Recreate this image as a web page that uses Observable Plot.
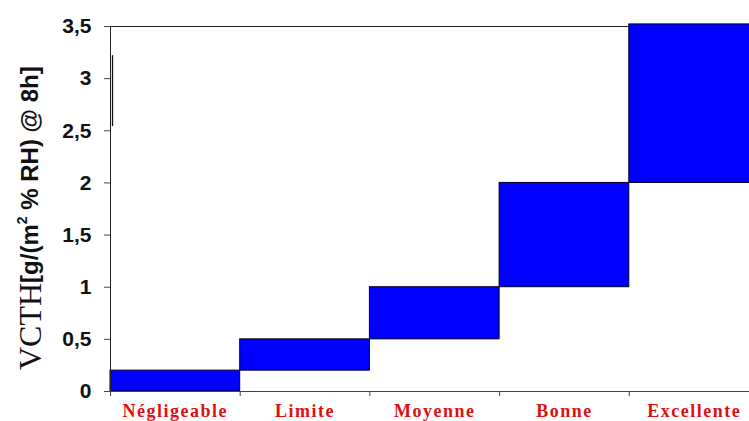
<!DOCTYPE html>
<html>
<head>
<meta charset="utf-8">
<script src="https://cdn.jsdelivr.net/npm/d3@7"></script>
<script src="https://cdn.jsdelivr.net/npm/@observablehq/plot@0.6"></script>
<style>
  html, body { margin: 0; padding: 0; background: white; overflow: hidden; }
  #chart svg { display: block; }
  #chart g[aria-label="x-axis tick label"] text { letter-spacing: 1.5px; }
</style>
</head>
<body>
<div id="chart"></div>
<script>
// Data
const categories = ["Négligeable", "Limite", "Moyenne", "Bonne", "Excellente"];
const lows  = [0, 0.2, 0.5, 1, 2];
const highs = [0.2, 0.5, 1, 2, 3.52];
const yTicks = [0, 0.5, 1, 1.5, 2, 2.5, 3, 3.5];
const yMax = 3.5;
const artifactRange = [2.54, 3.22]; // stray vertical stroke beside the y axis

const table = categories.map((c, i) => ({cat: c, i, lo: lows[i], hi: highs[i]}));
const boundaries = d3.range(categories.length);
const centers = categories.map((c, i) => i + 0.5);

const plot = Plot.plot({
  width: 749,
  height: 421,
  marginLeft: 110,
  marginRight: 0,
  marginTop: 26,
  marginBottom: 30,
  style: {background: "white"},
  x: {type: "linear", domain: [0, categories.length], range: [110, 758.5]},
  y: {domain: [0, yMax]},
  marks: [
    Plot.ruleY([yMax], {x1: 0, x2: categories.length, stroke: "#222", strokeWidth: 1}),
    Plot.rectY(table, {
      x1: d => d.i, x2: d => d.i + 1, y1: "lo", y2: "hi",
      fill: "#0000ff", stroke: "#000022", strokeWidth: 1
    }),
    Plot.ruleY([0], {stroke: "#444", strokeWidth: 1.2}),
    Plot.ruleX([0], {y1: 0, y2: yMax, stroke: "#222", strokeWidth: 1}),
    Plot.ruleX([0], {y1: artifactRange[0], y2: artifactRange[1], dx: 2, stroke: "#111", strokeWidth: 1.3}),
    Plot.axisY({
      ticks: yTicks,
      tickFormat: d => String(d).replace(".", ","),
      tickSize: 6,
      tickPadding: 13,
      fontSize: 21,
      fontWeight: "bold",
      fontFamily: "Liberation Sans, Arial, sans-serif",
      stroke: "#444",
      fill: "#111",
      label: null
    }),
    Plot.axisX({
      ticks: boundaries,
      tickFormat: () => "",
      tickSize: 5,
      stroke: "#444",
      label: null
    }),
    Plot.axisX({
      ticks: centers,
      tickFormat: d => categories[Math.floor(d)],
      tickSize: 0,
      tickPadding: 13,
      fontSize: 18,
      fontWeight: "bold",
      fontFamily: "Liberation Serif, Times New Roman, serif",
      fill: "#dd1111",
      label: null
    })
  ]
});

document.getElementById("chart").appendChild(plot);

// Y axis title with mixed fonts
const svg = d3.select(plot);
const title = svg.append("text")
  .attr("transform", "translate(41,370) rotate(-90)")
  .attr("text-anchor", "start")
  .attr("fill", "#111");
title.append("tspan")
  .attr("font-family", "Liberation Serif, Times New Roman, serif")
  .attr("font-size", 32)
  .text("VCTH");
title.append("tspan")
  .attr("font-family", "Liberation Sans, Arial, sans-serif")
  .attr("font-weight", "bold")
  .attr("font-size", 24)
  .attr("dy", -3)
  .text("[g/(m");
title.append("tspan")
  .attr("font-family", "Liberation Sans, Arial, sans-serif")
  .attr("font-weight", "bold")
  .attr("font-size", 14)
  .attr("dy", -11)
  .text("2");
title.append("tspan")
  .attr("font-family", "Liberation Sans, Arial, sans-serif")
  .attr("font-weight", "bold")
  .attr("font-size", 24)
  .attr("dy", 11)
  .text(" % RH) @ 8h]");
</script>
</body>
</html>
